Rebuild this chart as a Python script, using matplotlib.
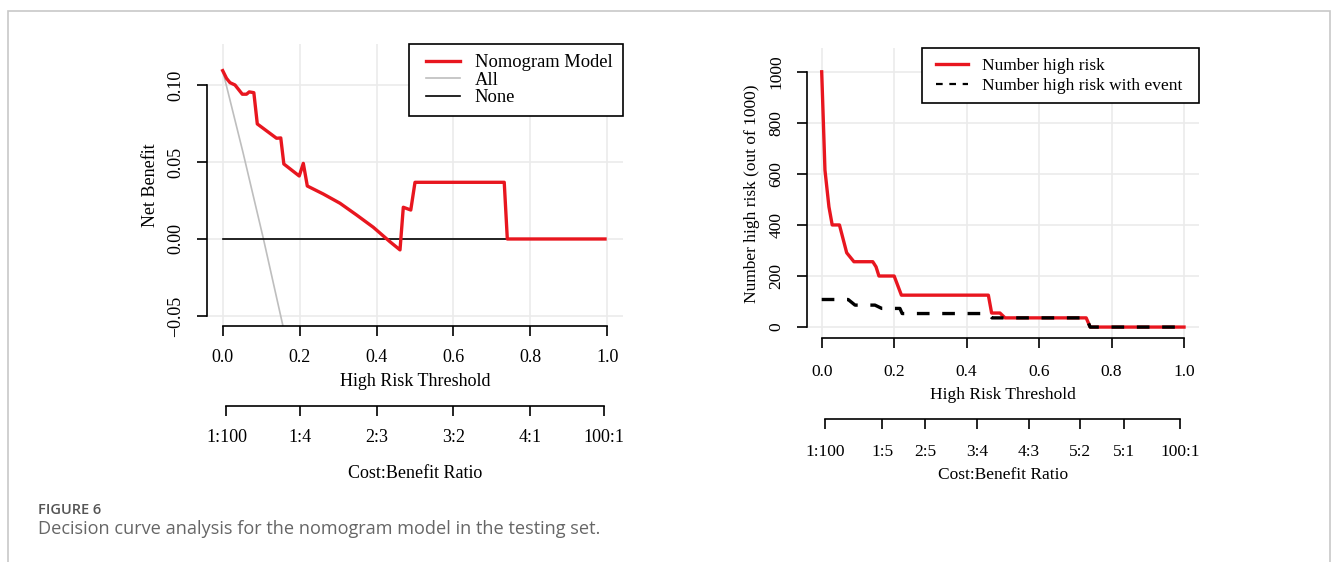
import matplotlib
matplotlib.use("Agg")
import matplotlib.pyplot as plt
from matplotlib.patches import Rectangle
from matplotlib.lines import Line2D
from matplotlib.legend_handler import HandlerLine2D

W, H = 1336, 562
SERIF = ['Liberation Serif', 'DejaVu Serif']

# --- left panel: net benefit ---
nomo_x = [0.0, 0.010, 0.019, 0.032, 0.051, 0.062, 0.069, 0.081, 0.090, 0.140, 0.151,
          0.159, 0.199, 0.2096, 0.220, 0.2616, 0.305, 0.348, 0.3916, 0.435, 0.461,
          0.4696, 0.489, 0.500, 0.732, 0.740, 0.994]
nomo_y = [0.1093, 0.1043, 0.1015, 0.1000, 0.0940, 0.0940, 0.0955, 0.0950, 0.0747,
          0.0654, 0.0656, 0.0487, 0.0409, 0.0491, 0.0344, 0.0292, 0.0232, 0.0156,
          0.0076, -0.0018, -0.0071, 0.0206, 0.0188, 0.0368, 0.0368, 0.0, 0.0]
all_x = [0.0, 0.053, 0.106, 0.156, 0.170]
all_y = [0.1093, 0.0560, 0.0, -0.0557, -0.0730]
none_x = [0.0, 0.99]
none_y = [0.0, 0.0]

# --- right panel: number high risk ---
risk_x = [0.0, 0.009, 0.020, 0.029, 0.049, 0.069, 0.089, 0.141, 0.150, 0.158, 0.200,
          0.220, 0.460, 0.469, 0.492, 0.506, 0.730, 0.741, 1.0]
risk_y = [1000, 615, 471, 400, 400, 291, 256, 256, 236, 200, 200,
          125, 125, 55, 55, 36, 36, 0, 0]
event_x = [0.0, 0.073, 0.092, 0.147, 0.166, 0.216, 0.222, 0.460, 0.470, 0.730, 0.741, 1.0]
event_y = [108, 108, 86, 86, 73, 73, 53, 53, 36, 36, 0, 0]

thr_ticks = [0.0, 0.2, 0.4, 0.6, 0.8, 1.0]
cb_left_pos = [0.0099, 0.2, 0.4, 0.6, 0.8, 0.9901]
cb_left_lab = ['1:100', '1:4', '2:3', '3:2', '4:1', '100:1']
cb_right_pos = [0.0099, 1/6, 2/7, 3/7, 4/7, 5/7, 5/6, 0.9901]
cb_right_lab = ['1:100', '1:5', '2:5', '3:4', '4:3', '5:2', '5:1', '100:1']

RED = '#e8161f'
GRID = '#ebebeb'


def box(x0, y0, x1, y1):
    # pixel box (top-left origin) -> figure fraction rect
    return [x0 / W, (H - y1) / H, (x1 - x0) / W, (y1 - y0) / H]


def style_axis(ax, fs, ybounds, ypad, xpad):
    ax.grid(True, color=GRID, lw=1.2)
    ax.set_axisbelow(True)
    for s in ['top', 'right']:
        ax.spines[s].set_visible(False)
    ax.spines['left'].set_bounds(*ybounds)
    ax.spines['bottom'].set_bounds(0, 1)
    for s in ['left', 'bottom']:
        ax.spines[s].set_linewidth(1.2)
    ax.set_xticks(thr_ticks)
    ax.set_xticklabels(['0.0', '0.2', '0.4', '0.6', '0.8', '1.0'], family=SERIF, fontsize=fs)
    ax.tick_params(axis='both', length=7.5, width=1.2)
    ax.tick_params(axis='x', pad=xpad)
    ax.tick_params(axis='y', pad=ypad)
    for t in ax.get_yticklabels():
        t.set_family(SERIF)
        t.set_fontsize(fs)
        t.set_rotation(90)
        t.set_va('center')


def cb_axis(fig, rect, xlim, pos, labels, fs, pad, labelpad):
    cx = fig.add_axes(rect)
    cx.set_xlim(xlim)
    cx.patch.set_alpha(0)
    for s in ['top', 'right', 'left']:
        cx.spines[s].set_visible(False)
    cx.spines['bottom'].set_bounds(pos[0], pos[-1])
    cx.spines['bottom'].set_linewidth(1.2)
    cx.set_yticks([])
    cx.set_xticks(pos)
    cx.set_xticklabels(labels, family=SERIF, fontsize=fs)
    cx.tick_params(axis='x', length=7.5, width=1.2, pad=pad)
    cx.set_xlabel('Cost:Benefit Ratio', family=SERIF, fontsize=fs, labelpad=labelpad)
    return cx


def make_legend(ax, handles, labels, fs, spacing, x0, hlen, xpad):
    hmap = {hd: HandlerLine2D(xpad=xpad) for hd in handles}
    leg = ax.legend(handles, labels, loc='upper right', bbox_to_anchor=(x0, 0, 1 - x0, 1),
                    mode='expand', handler_map=hmap,
                    prop={'family': SERIF, 'size': fs}, frameon=True, fancybox=False,
                    edgecolor='black', framealpha=1, borderpad=0.55,
                    labelspacing=spacing, handlelength=hlen, handletextpad=0.8,
                    borderaxespad=0)
    leg.get_frame().set_linewidth(1.2)
    return leg


fig = plt.figure(figsize=(W / 100, H / 100), dpi=100)
fig.patches.append(Rectangle((7.5 / W, -0.1), (1330.3 - 7.5) / W, 1.1 - 10.5 / H,
                             transform=fig.transFigure, fill=False,
                             edgecolor='#c8c8c8', lw=1.2))

# left panel
ax1 = fig.add_axes(box(207.3, 44, 622.7, 326))
ax1.plot(all_x, all_y, color='#bebebe', lw=1.2)
ax1.plot(none_x, none_y, color='black', lw=1.2)
ax1.plot(nomo_x, nomo_y, color=RED, lw=2.4)
ax1.set_xlim(-0.04, 1.04)
ax1.set_ylim(-0.0565, 0.1266)
ax1.set_yticks([-0.05, 0.0, 0.05, 0.10])
ax1.set_yticklabels(['\u22120.05', '0.00', '0.05', '0.10'])
style_axis(ax1, 13, (-0.05, 0.10), 9, 9)
ax1.set_xlabel('High Risk Threshold', family=SERIF, fontsize=13, labelpad=5)
ax1.set_ylabel('Net Benefit', family=SERIF, fontsize=13, labelpad=6)
h = [Line2D([], [], color=RED, lw=2.4), Line2D([], [], color='#bebebe', lw=1.2),
     Line2D([], [], color='black', lw=1.2)]
make_legend(ax1, h, ['Nomogram Model', 'All', 'None'], 13.3, 0.03,
            (409.3 - 207.3) / 415.4, 2.2, 0.33)
cb_axis(fig, box(207.3, 405, 622.7, 406), (-0.04, 1.04), cb_left_pos, cb_left_lab,
        13, 9, 13.6)

# right panel
ax2 = fig.add_axes(box(807.2, 48.3, 1198.5, 338.3))
ax2.plot(risk_x, risk_y, color=RED, lw=2.4)
ax2.plot(event_x, event_y, color='black', lw=2.4, ls=(0, (3.8, 3.8)))
ax2.set_xlim(-0.04, 1.04)
ax2.set_ylim(-44, 1092)
ax2.set_yticks([0, 200, 400, 600, 800, 1000])
ax2.set_yticklabels(['0', '200', '400', '600', '800', '1000'])
style_axis(ax2, 12.5, (0, 1000), 9, 11)
ax2.set_xlabel('High Risk Threshold', family=SERIF, fontsize=12.5, labelpad=5)
ax2.set_ylabel('Number high risk (out of 1000)', family=SERIF, fontsize=12.5, labelpad=6)
h2 = [Line2D([], [], color=RED, lw=2.4), Line2D([], [], color='black', lw=1.6, ls=(0, (3, 3)))]
make_legend(ax2, h2, ['Number high risk', 'Number high risk with event'], 12.5, 0.2,
            (921.7 - 807.2) / 391.3, 2.12, 0.28)
cb_axis(fig, box(807.2, 418.3, 1198.5, 419.3), (-0.04, 1.04), cb_right_pos, cb_right_lab,
        12.5, 10, 5)

# caption
fig.text(38 / W, 1 - 510 / H, 'FIGURE 6', family='Open Sans', fontsize=10.5,
         weight='semibold', color='#555555', va='center')
fig.text(38 / W, 1 - 529 / H,
         'Decision curve analysis for the nomogram model in the testing set.',
         family='Open Sans', fontsize=13.1, color='#666666', va='center')

fig.savefig('out.png', dpi=100)
